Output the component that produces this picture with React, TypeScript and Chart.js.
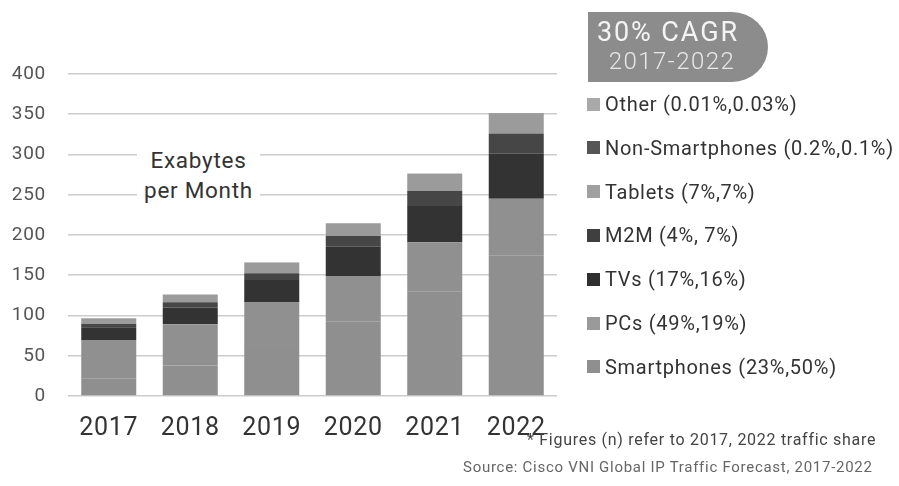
import React, { useEffect, useRef } from "react";
import { Chart, registerables } from "chart.js";

Chart.register(...registerables);

const categories = ["2017", "2018", "2019", "2020", "2021", "2022"];
const smartphones = [22, 38, 61, 93, 130, 175];
const pcs = [47.5, 51, 55, 56, 61, 70];
const tvs = [16, 21, 28, 36.5, 45, 56];
const m2m = [4, 6.5, 8.5, 13.3, 19, 25];
const tablets = [7, 9.5, 13, 15.7, 20.8, 25];
const nonSmartphones = [0.2, 0.2, 0.2, 0.2, 0.3, 0.35];
const other = [0.01, 0.01, 0.02, 0.03, 0.05, 0.1];
const yTicks = [0, 50, 100, 150, 200, 250, 300, 350, 400];

const legendItems = [
  { label: "Other (0.01%,0.03%)", color: "#a9a9a9" },
  { label: "Non-Smartphones (0.2%,0.1%)", color: "#555555" },
  { label: "Tablets (7%,7%)", color: "#a0a0a0" },
  { label: "M2M (4%, 7%)", color: "#3f3f3f" },
  { label: "TVs (17%,16%)", color: "#2f2f2f" },
  { label: "PCs (49%,19%)", color: "#9a9a9a" },
  { label: "Smartphones (23%,50%)", color: "#8f8f8f" },
];

const FONT = "Roboto, 'Noto Sans', sans-serif";

export default function App() {
  const ref = useRef<HTMLCanvasElement | null>(null);

  useEffect(() => {
    if (!ref.current) return;
    const chart = new Chart(ref.current, {
      type: "bar",
      data: {
        labels: categories,
        datasets: [
          { label: "Smartphones", data: smartphones, backgroundColor: "#8f8f8f" },
          { label: "PCs", data: pcs, backgroundColor: "#909090" },
          { label: "TVs", data: tvs, backgroundColor: "#333333" },
          { label: "M2M", data: m2m, backgroundColor: "#464646" },
          { label: "Tablets", data: tablets, backgroundColor: "#9b9b9b" },
          { label: "Non-Smartphones", data: nonSmartphones, backgroundColor: "#4d4d4d" },
          { label: "Other", data: other, backgroundColor: "#a5a5a5" },
        ],
      },
      options: {
        responsive: false,
        animation: false,
        events: [],
        datasets: {
          bar: { categoryPercentage: 1, barPercentage: 0.675 },
        },
        layout: { padding: { left: 0, top: 74, right: 342, bottom: 50 } },
        plugins: { legend: { display: false }, tooltip: { enabled: false } },
        scales: {
          x: {
            stacked: true,
            grid: { display: false },
            border: { display: false },
            ticks: { color: "#333333", font: { family: FONT, size: 25 }, padding: 10 },
            afterFit: (s: any) => {
              s.height = 40;
            },
          },
          y: {
            stacked: true,
            min: 0,
            max: 400,
            afterBuildTicks: (s: any) => {
              s.ticks = yTicks.map((v) => ({ value: v }));
            },
            grid: { color: "#cccccc", lineWidth: 1.6, drawTicks: false },
            border: { display: false },
            ticks: { color: "#555555", font: { family: FONT, size: 19 }, padding: 22 },
            afterFit: (s: any) => {
              s.width = 68;
            },
          },
        },
      },
    });
    return () => chart.destroy();
  }, []);

  return (
    <div
      style={{
        position: "absolute",
        left: 0,
        top: 0,
        width: 899,
        height: 486,
        background: "#ffffff",
        fontFamily: FONT,
        letterSpacing: "0.045em",
        overflow: "hidden",
      }}
    >
      <canvas ref={ref} width={899} height={486} style={{ position: "absolute", left: 0, top: 0 }} />
      <div
        style={{
          position: "absolute",
          left: 137,
          top: 143,
          width: 123,
          height: 64,
          background: "#ffffff",
          color: "#333333",
          fontSize: 22.5,
          lineHeight: "30px",
          textAlign: "center",
          paddingTop: 2,
        }}
      >
        <div>Exabytes</div>
        <div>per Month</div>
      </div>
      <div
        style={{
          position: "absolute",
          left: 588,
          top: 12,
          width: 180,
          height: 70,
          background: "#8c8c8c",
          borderRadius: "0 36px 36px 0 / 0 35px 35px 0",
        }}
      >
        <div
          style={{
            position: "absolute",
            left: 0,
            top: 4,
            width: 160,
            textAlign: "center",
            color: "#f4f4f4",
            fontSize: 27,
            letterSpacing: "0.07em",
            lineHeight: "32px",
          }}
        >
          30% CAGR
        </div>
        <div
          style={{
            position: "absolute",
            left: 0,
            top: 34,
            width: 168,
            textAlign: "center",
            color: "#e8e8e8",
            fontSize: 24,
            fontWeight: 300,
            letterSpacing: "0.06em",
            lineHeight: "30px",
          }}
        >
          2017-2022
        </div>
      </div>
      {legendItems.map((it, i) => (
        <div
          key={it.label}
          style={{
            position: "absolute",
            left: 587,
            top: 104 + i * 43.8 - 14,
            height: 28,
            display: "flex",
            alignItems: "center",
            whiteSpace: "nowrap",
            color: "#333333",
            fontSize: 20,
          }}
        >
          <span
            style={{ display: "inline-block", width: 13, height: 13, background: it.color, marginRight: 5 }}
          />
          <span>{it.label}</span>
        </div>
      ))}
      <div
        style={{
          position: "absolute",
          left: 527,
          top: 429,
          whiteSpace: "nowrap",
          color: "#444444",
          fontSize: 16,
          lineHeight: "22px",
        }}
      >
        * Figures (n) refer to 2017, 2022 traffic share
      </div>
      <div
        style={{
          position: "absolute",
          left: 463,
          top: 456,
          whiteSpace: "nowrap",
          color: "#666666",
          fontSize: 15,
          lineHeight: "22px",
        }}
      >
        Source: Cisco VNI Global IP Traffic Forecast, 2017-2022
      </div>
    </div>
  );
}
